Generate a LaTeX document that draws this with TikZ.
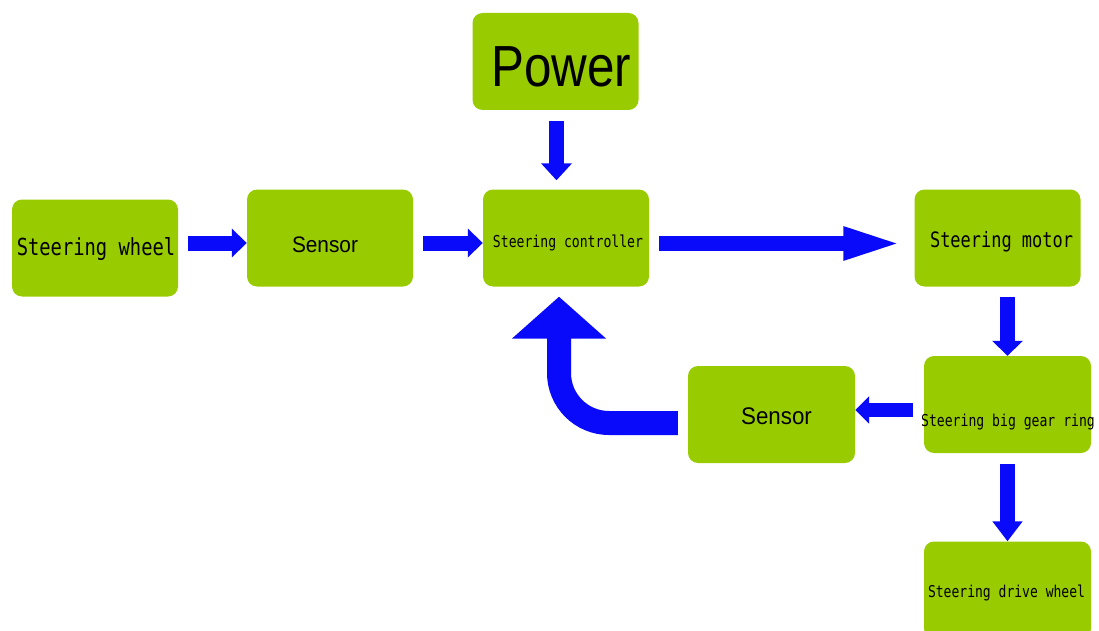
\documentclass[tikz,border=0pt]{standalone}
\usepackage{fontspec}
\setmainfont{Liberation Sans}
\newfontfamily\monofnt[FakeStretch=0.8]{DejaVu Sans Mono}
\newfontfamily\powerfnt[FakeStretch=0.85]{Liberation Sans}
\newfontfamily\sensfnt[FakeStretch=0.93]{Liberation Sans}
\usetikzlibrary{arrows.meta}
\definecolor{boxgreen}{RGB}{153,204,0}
\definecolor{arrowblue}{RGB}{10,10,250}
\begin{document}
\begin{tikzpicture}[x=1pt,y=-1pt,
  box/.style={draw=none,fill=boxgreen,rounded corners=10pt,minimum width=166pt,minimum height=97pt,inner sep=0pt},
  monotxt/.style={anchor=base,inner sep=0pt,font=\monofnt\fontsize{#1}{#1}\selectfont},
  senstxt/.style={anchor=base,inner sep=0pt,font=\sensfnt\fontsize{#1}{#1}\selectfont},
  flow/.style={draw=arrowblue,line width=15pt},
]
\useasboundingbox (0,0) rectangle (1099,631);
\clip (0,0) rectangle (1099,631);

% boxes
\node[box] (power) at (555.5,61.5) {};
\node[box] (sw)    at (95,248) {};
\node[box] (s1)    at (330,238) {};
\node[box] (ctrl)  at (566,238) {};
\node[box] (motor) at (997.5,238) {};
\node[box,minimum width=167pt] (gear)  at (1007.5,404.5) {};
\node[box,minimum width=167pt] (s2)    at (771.5,414.5) {};
\node[box,minimum width=167pt] (drive) at (1007.5,590) {};

% texts
\node[anchor=base,inner sep=0pt,font=\powerfnt\fontsize{58}{58}\selectfont] (tpower) at (561,87) {Power};
\node[monotxt=23.5] (tsw) at (96,255) {Steering wheel};
\node[senstxt=22.4] (ts1) at (325,252) {Sensor};
\node[monotxt=16.4] (tctrl) at (568,247) {Steering controller};
\node[monotxt=21.2] (tmotor) at (1001.5,247) {Steering motor};
\node[monotxt=16.4] (tgear) at (1008,426) {Steering big gear ring};
\node[monotxt=16.3] (tdrive) at (1006.5,597) {Steering drive wheel};
\node[senstxt=24] (ts2) at (776.5,424) {Sensor};

% arrows
\draw[flow,-{Triangle[length=17pt,width=30pt]}]
  ([shift={(1pt,-11pt)}]power.south) -- ([shift={(-9.5pt,9pt)}]ctrl.north);
\draw[flow,-{Triangle[length=15pt,width=28pt]}]
  ([shift={(10pt,5pt)}]sw.east) -- ([yshift=-5pt]s1.west);
\draw[flow,-{Triangle[length=15pt,width=28pt]}]
  ([shift={(10pt,-5pt)}]s1.east) -- ([yshift=-5pt]ctrl.west);
\draw[flow,-{Triangle[length=62pt,width=29pt]}]
  ([shift={(10pt,-5.5pt)}]ctrl.east) -- ([shift={(-9pt,-5.5pt)}]motor.west);
\draw[flow,-{Triangle[length=15pt,width=30pt]}]
  ([shift={(10pt,-10.5pt)}]motor.south) -- (gear.north);
\draw[flow,line width=14pt,-{Triangle[length=14pt,width=27pt]}]
  ([shift={(-11pt,-5.5pt)}]gear.west) -- ([yshift=4.5pt]s2.east);
\draw[flow,-{Triangle[length=20pt,width=29pt]}]
  ([yshift=-11pt]gear.south) -- (drive.north);
\draw[flow,line width=24pt,rounded corners=50pt,-{Triangle[length=42pt,width=92pt]}]
  ([shift={(-10pt,-8.5pt)}]s2.west) -| ([shift={(-7pt,-10pt)}]ctrl.south);
\end{tikzpicture}
\end{document}
